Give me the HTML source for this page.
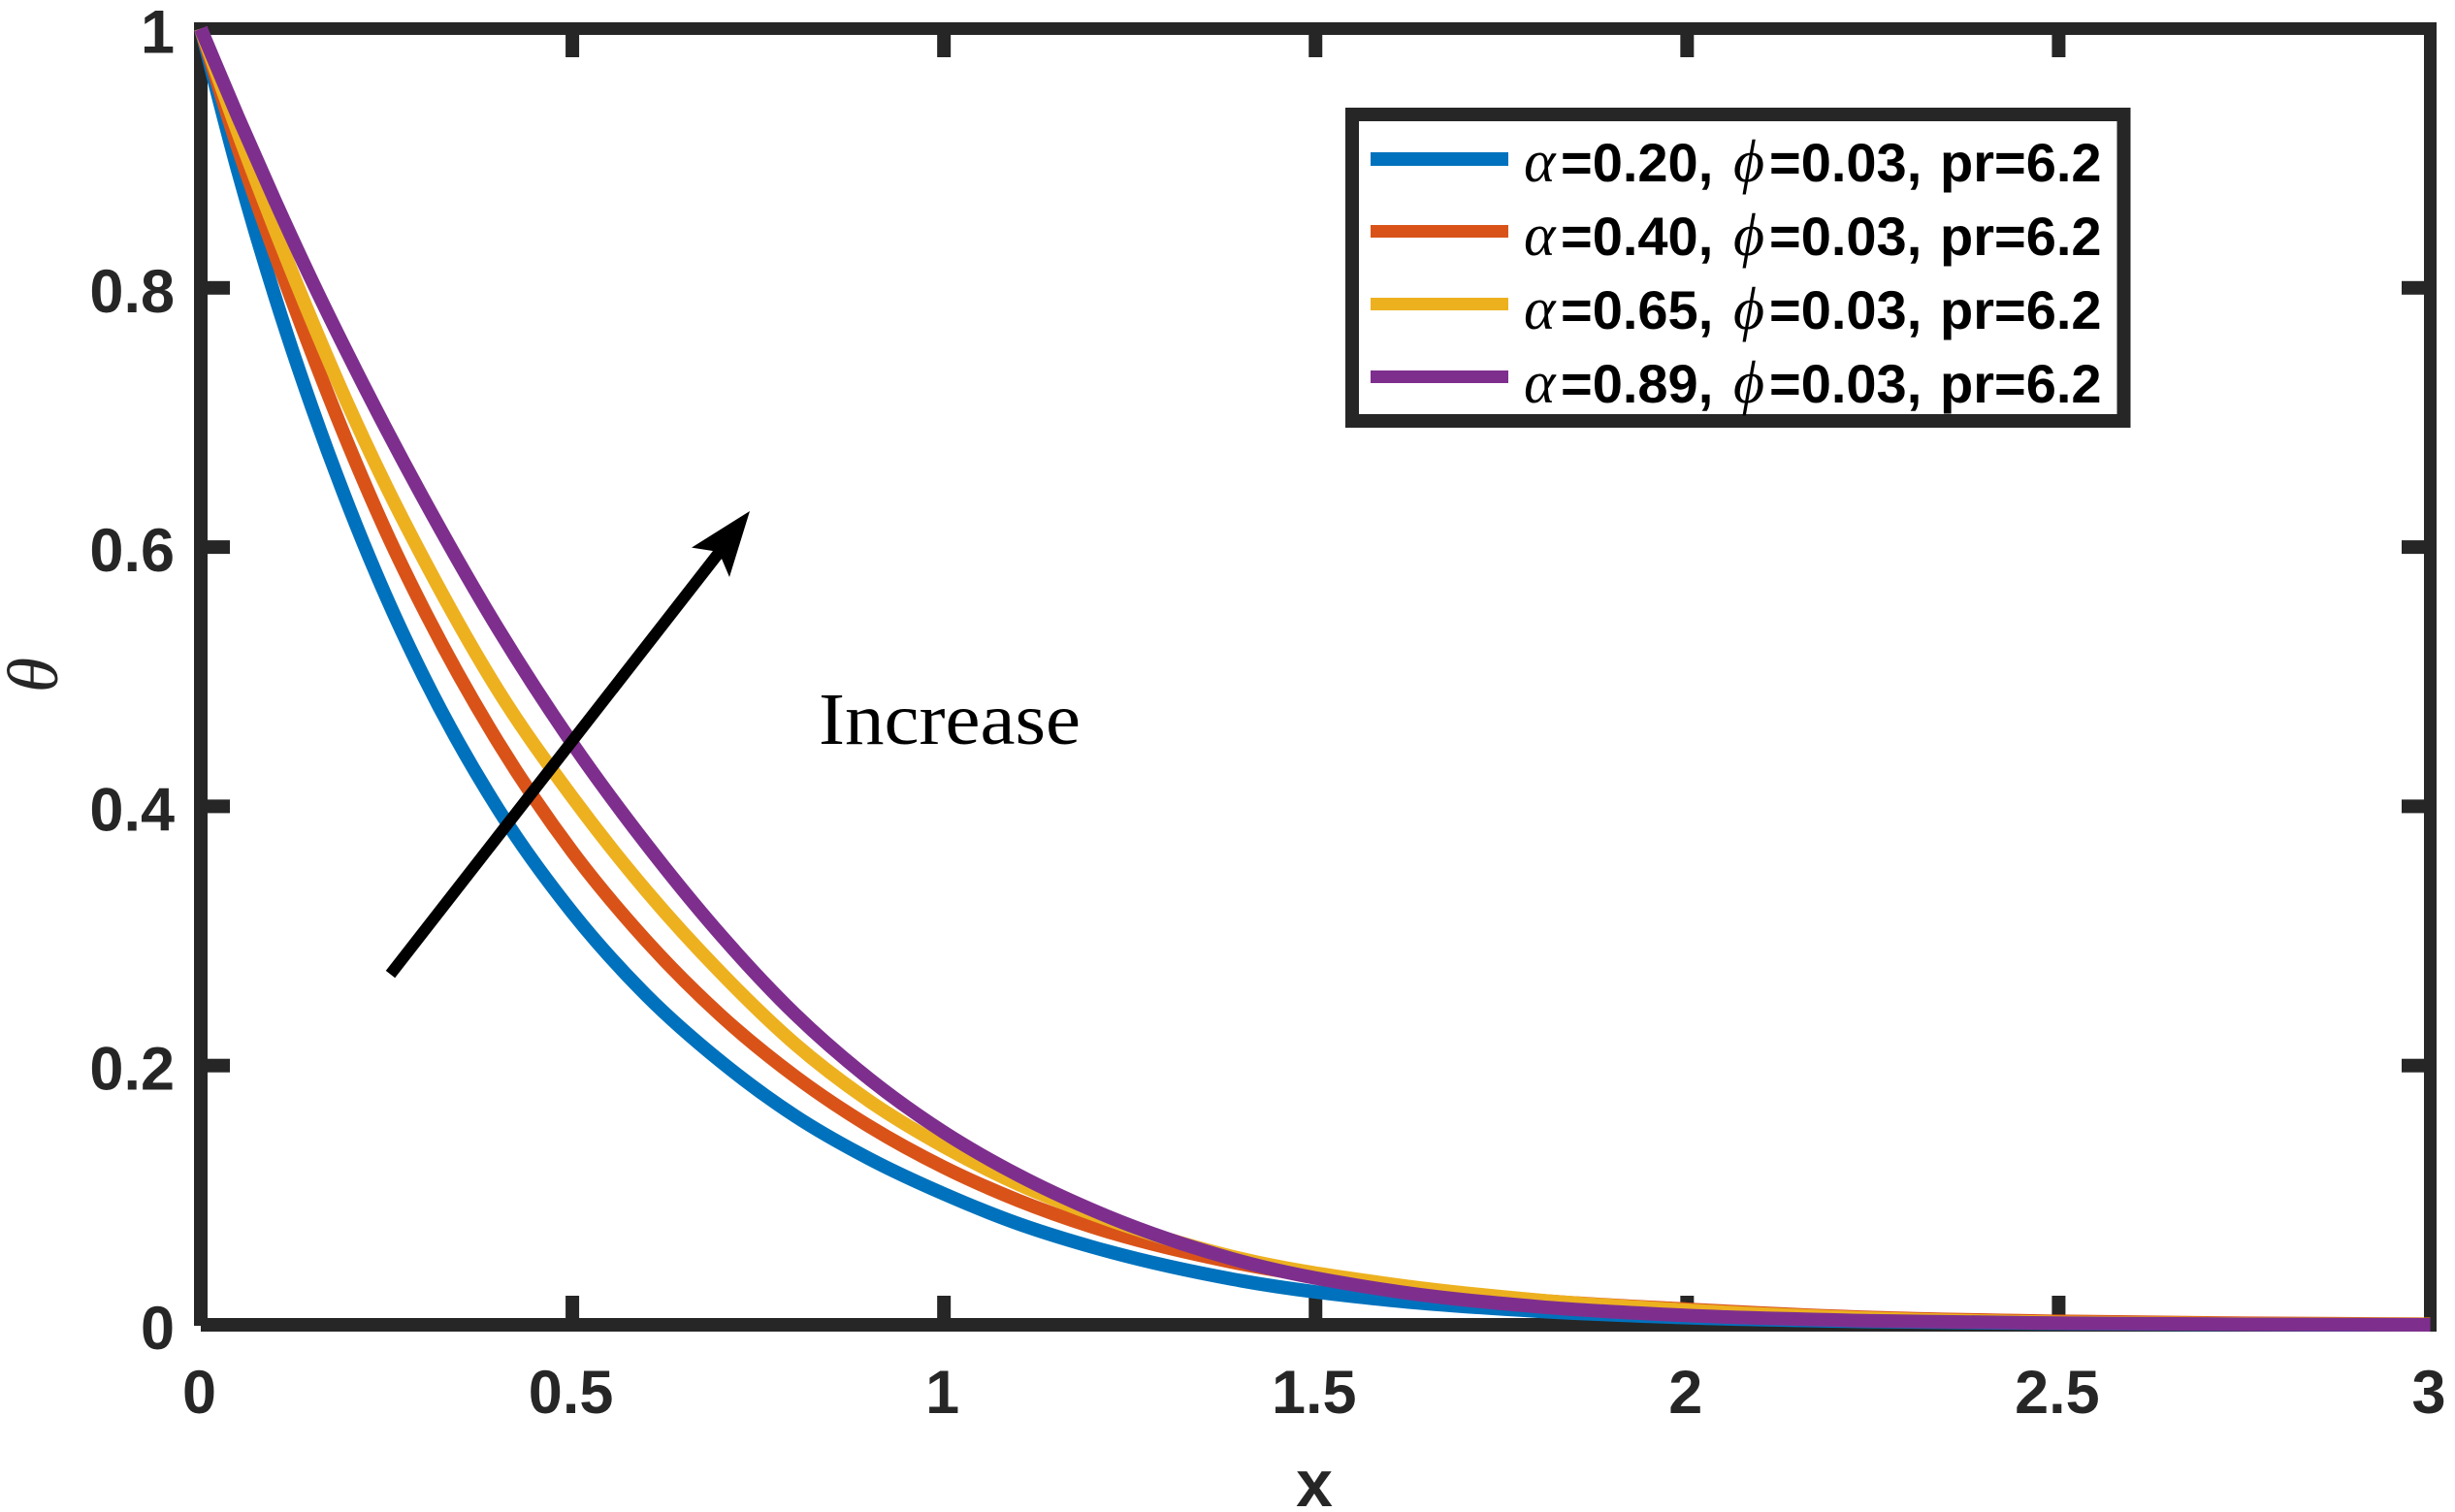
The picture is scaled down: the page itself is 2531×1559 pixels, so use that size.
<!DOCTYPE html>
<html lang="en">
<head>
<meta charset="utf-8">
<title>Temperature profile chart</title>
<style>
  html, body { margin: 0; padding: 0; background: #ffffff; }
  svg { display: block; }
  .tick-label { font-family: "Liberation Sans", Arial, sans-serif; font-weight: bold; font-size: 63px; fill: #262626; }
  .legend-text { font-family: "Liberation Sans", Arial, sans-serif; font-weight: bold; font-size: 56px; fill: #000000; }
  .greek { font-family: "Liberation Serif", "DejaVu Serif", serif; font-style: italic; font-weight: normal; font-size: 62px; fill: #000000; }
</style>
</head>
<body>
<svg id="chart" xmlns="http://www.w3.org/2000/svg" width="2531" height="1559" viewBox="0 0 2531 1559">
  <rect x="0" y="0" width="2531" height="1559" fill="#ffffff"/>
  <g id="axes"></g>
  <g id="series"></g>

  <text x="1355" y="1553" text-anchor="middle" font-family="Liberation Sans, Arial, sans-serif" font-weight="bold" font-size="68" fill="#262626">x</text>
  <text x="59" y="696" text-anchor="middle" transform="rotate(-90 59 696)" font-family="Liberation Serif, DejaVu Serif, serif" font-style="italic" font-size="74" fill="#262626">θ</text>

  <g>
    <line x1="402.5" y1="1004.6" x2="745" y2="565" stroke="#000000" stroke-width="12"/>
    <polygon points="773,527 713,564.6 741,569 752,595" fill="#000000"/>
  </g>
  <text x="844" y="767" textLength="270" lengthAdjust="spacingAndGlyphs" font-family="Liberation Serif, serif" font-size="76" fill="#000000">Increase</text>

  <g>
    <rect x="1394" y="118" width="795.5" height="316" fill="#ffffff" stroke="#262626" stroke-width="14"/>

    <g>
      <line x1="1413" x2="1555" y1="164" y2="164" stroke="#0072BD" stroke-width="14"/>
      <text class="legend-text" y="187"><tspan class="greek" x="1571">α</tspan><tspan x="1609">=0.20,</tspan><tspan class="greek" x="1787">ϕ</tspan><tspan x="1824">=0.03,</tspan><tspan x="2000">pr=6.2</tspan></text>
    </g>
    <g>
      <line x1="1413" x2="1555" y1="238.5" y2="238.5" stroke="#D95319" stroke-width="13"/>
      <text class="legend-text" y="263"><tspan class="greek" x="1571">α</tspan><tspan x="1609">=0.40,</tspan><tspan class="greek" x="1787">ϕ</tspan><tspan x="1824">=0.03,</tspan><tspan x="2000">pr=6.2</tspan></text>
    </g>
    <g>
      <line x1="1413" x2="1555" y1="313.5" y2="313.5" stroke="#EDB120" stroke-width="13"/>
      <text class="legend-text" y="339"><tspan class="greek" x="1571">α</tspan><tspan x="1609">=0.65,</tspan><tspan class="greek" x="1787">ϕ</tspan><tspan x="1824">=0.03,</tspan><tspan x="2000">pr=6.2</tspan></text>
    </g>
    <g>
      <line x1="1413" x2="1555" y1="388.5" y2="388.5" stroke="#7E2F8E" stroke-width="13"/>
      <text class="legend-text" y="415"><tspan class="greek" x="1571">α</tspan><tspan x="1609">=0.89,</tspan><tspan class="greek" x="1787">ϕ</tspan><tspan x="1824">=0.03,</tspan><tspan x="2000">pr=6.2</tspan></text>
    </g>
  </g>
</svg>

<script>
const xValues = [0, 0.05, 0.1, 0.15, 0.2, 0.25, 0.3, 0.4, 0.5, 0.6, 0.7, 0.8, 0.9, 1, 1.1, 1.2, 1.4, 1.6, 1.8, 2, 2.25, 2.5, 2.75, 3];
const alpha020 = [1, 0.890, 0.793, 0.707, 0.630, 0.561, 0.500, 0.398, 0.318, 0.254, 0.203, 0.161, 0.128, 0.101, 0.078, 0.060, 0.034, 0.019, 0.0105, 0.0055, 0.0025, 0.001, 0.0003, 0];
const alpha040 = [1, 0.908, 0.826, 0.749, 0.677, 0.611, 0.552, 0.4495, 0.365, 0.296, 0.2385, 0.1915, 0.153, 0.1215, 0.096, 0.0755, 0.047, 0.030, 0.0188, 0.012, 0.0056, 0.0027, 0.0012, 0.0005];
const alpha065 = [1, 0.920, 0.845, 0.774, 0.7075, 0.6465, 0.5905, 0.4895, 0.407, 0.3345, 0.2715, 0.2165, 0.1725, 0.1375, 0.1085, 0.0855, 0.051, 0.0315, 0.019, 0.0112, 0.005, 0.0019, 0.0007, 0.0002];
const alpha089 = [1, 0.932, 0.867, 0.805, 0.7465, 0.6905, 0.637, 0.537, 0.4485, 0.3705, 0.3005, 0.2395, 0.1895, 0.1485, 0.1155, 0.0885, 0.049, 0.0265, 0.014, 0.0072, 0.0031, 0.0013, 0.0004, 0];
const xTicks = [0, 0.5, 1, 1.5, 2, 2.5, 3];
const xTickLabels = ["0", "0.5", "1", "1.5", "2", "2.5", "3"];
const yTicks = [0, 0.2, 0.4, 0.6, 0.8, 1];
const yTickLabels = ["0", "0.2", "0.4", "0.6", "0.8", "1"];

const SVG_NS = "http://www.w3.org/2000/svg";
const scaleX = function (v) { return 207 + (v / 3) * 2298.5; };
const scaleY = function (v) { return 1366 - v * 1336.5; };

function makeRect(x, y, w, h) {
  const r = document.createElementNS(SVG_NS, "rect");
  r.setAttribute("x", x);
  r.setAttribute("y", y);
  r.setAttribute("width", w);
  r.setAttribute("height", h);
  r.setAttribute("fill", "#262626");
  return r;
}

function splinePath(xs, ys) {
  const pts = xs.map(function (v, i) { return [scaleX(v), scaleY(ys[i])]; });
  const n = pts.length;
  const slopes = [];
  for (let i = 0; i < n; i++) {
    if (i === 0) {
      slopes.push((pts[1][1] - pts[0][1]) / (pts[1][0] - pts[0][0]));
    } else if (i === n - 1) {
      slopes.push((pts[n - 1][1] - pts[n - 2][1]) / (pts[n - 1][0] - pts[n - 2][0]));
    } else {
      const h1 = pts[i][0] - pts[i - 1][0];
      const h2 = pts[i + 1][0] - pts[i][0];
      const d1 = (pts[i][1] - pts[i - 1][1]) / h1;
      const d2 = (pts[i + 1][1] - pts[i][1]) / h2;
      slopes.push((h2 * d1 + h1 * d2) / (h1 + h2));
    }
  }
  let d = "M" + pts[0][0] + " " + pts[0][1];
  for (let i = 0; i < n - 1; i++) {
    const h = pts[i + 1][0] - pts[i][0];
    d += " C" + (pts[i][0] + h / 3) + " " + (pts[i][1] + slopes[i] * h / 3) + " " + (pts[i + 1][0] - h / 3) + " " + (pts[i + 1][1] - slopes[i + 1] * h / 3) + " " + pts[i + 1][0] + " " + pts[i + 1][1];
  }
  return d;
}

const axes = document.getElementById("axes");

const frameTop = makeRect(200, 23, 2312, 13);


axes.appendChild(frameTop);

const frameLeft = makeRect(200, 23, 14, 1344);


axes.appendChild(frameLeft);

const frameBottom = makeRect(207, 1359, 2305, 14);


axes.appendChild(frameBottom);

const frameRight = makeRect(2499, 23, 13, 1350);


axes.appendChild(frameRight);

xTicks.forEach(function (t, i) {
  const px = scaleX(t);
  if (t > 0 && t < 3) {
    const bottomTick = makeRect(px - 7, 1336, 14, 23);
    
    
    axes.appendChild(bottomTick);
    const topTick = makeRect(px - 7, 36, 14, 23);
    
    
    axes.appendChild(topTick);
  }
  const label = document.createElementNS(SVG_NS, "text");
  
  
  label.setAttribute("class", "tick-label");
  label.setAttribute("x", px - 1.5);
  label.setAttribute("y", 1457);
  label.setAttribute("text-anchor", "middle");
  label.textContent = xTickLabels[i];
  axes.appendChild(label);
});

yTicks.forEach(function (t, i) {
  const py = scaleY(t);
  if (t > 0 && t < 1) {
    const leftTick = makeRect(214, py - 7, 23, 14);
    
    
    axes.appendChild(leftTick);
    const rightTick = makeRect(2476, py - 7, 23, 14);
    
    
    axes.appendChild(rightTick);
  }
  const label = document.createElementNS(SVG_NS, "text");
  
  
  label.setAttribute("class", "tick-label");
  label.setAttribute("x", 180);
  label.setAttribute("y", py + 25);
  label.setAttribute("text-anchor", "end");
  label.textContent = yTickLabels[i];
  axes.appendChild(label);
});

const seriesGroup = document.getElementById("series");

const line020 = document.createElementNS(SVG_NS, "path");


line020.setAttribute("d", splinePath(xValues, alpha020));
line020.setAttribute("fill", "none");
line020.setAttribute("stroke", "#0072BD");
line020.setAttribute("stroke-width", "14");
seriesGroup.appendChild(line020);

const line040 = document.createElementNS(SVG_NS, "path");


line040.setAttribute("d", splinePath(xValues, alpha040));
line040.setAttribute("fill", "none");
line040.setAttribute("stroke", "#D95319");
line040.setAttribute("stroke-width", "14");
seriesGroup.appendChild(line040);

const line065 = document.createElementNS(SVG_NS, "path");


line065.setAttribute("d", splinePath(xValues, alpha065));
line065.setAttribute("fill", "none");
line065.setAttribute("stroke", "#EDB120");
line065.setAttribute("stroke-width", "14");
seriesGroup.appendChild(line065);

const line089 = document.createElementNS(SVG_NS, "path");


line089.setAttribute("d", splinePath(xValues, alpha089));
line089.setAttribute("fill", "none");
line089.setAttribute("stroke", "#7E2F8E");
line089.setAttribute("stroke-width", "14");
seriesGroup.appendChild(line089);
</script>
</body>
</html>
